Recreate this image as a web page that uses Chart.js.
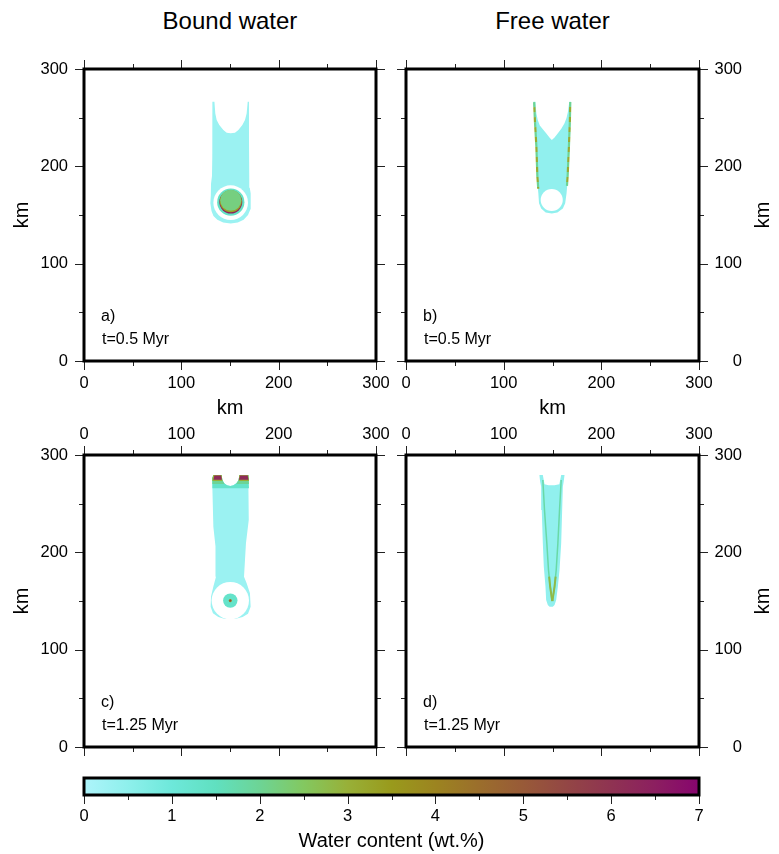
<!DOCTYPE html>
<html>
<head>
<meta charset="utf-8">
<title>Bound and free water</title>
<script src="https://cdn.jsdelivr.net/npm/chart.js@4/dist/chart.umd.min.js"></script>
<style>
  body { margin: 0; background: #fff; }
  #fig { position: relative; width: 779px; height: 854px; overflow: hidden; font-family: "Liberation Sans", Arial, sans-serif; }
  #fig canvas { position: absolute; }
  .col { position: absolute; top: 9px; text-align: center; font-size: 24px; line-height: 24px; color: #000; }
</style>
</head>
<body>
<div id="fig">
  <div class="col" style="left:84px;width:292px">Bound water</div>
  <div class="col" style="left:406px;width:293px">Free water</div>
  <canvas id="pa" width="398" height="376" style="left:0;top:47px"></canvas>
  <canvas id="pb" width="395" height="376" style="left:384px;top:47px"></canvas>
  <canvas id="pc" width="398" height="344" style="left:0;top:425px"></canvas>
  <canvas id="pd" width="395" height="344" style="left:384px;top:425px"></canvas>
  <canvas id="cb" width="779" height="85" style="left:0;top:768px"></canvas>
</div>
<script>
// ---- axes ----
const kmTicks = [0, 100, 200, 300];
const cbTicks = [0, 1, 2, 3, 4, 5, 6, 7];
// colour scale, one colour every 0.5 wt.%
const cbColors = ['#aef4fb', '#8ef0ec', '#6de8da', '#60e0c0', '#6dd495', '#83c860', '#98b038', '#999a1c',
                  '#9c8420', '#9b6e2c', '#985a38', '#934645', '#8f3352', '#8c1f60', '#87056e'];

// ---- a) bound water, t=0.5 Myr (km) ----
const boundBody05 = [
  {x:131.9,y:266.4},{x:131.9,y:240},{x:131.7,y:210},{x:131.5,y:190},{x:130.5,y:182},{x:130.3,y:170},
  {x:129.8,y:162},{x:131,y:154},{x:133,y:149},{x:137,y:145},{x:143,y:142.3},{x:150.7,y:141.3},
  {x:158,y:142.3},{x:164,y:145},{x:168.5,y:150},{x:171,y:156},{x:171.5,y:163},{x:171,y:172},
  {x:170.3,y:178},{x:169.8,y:186},{x:169.5,y:230},{x:169.5,y:266.4},
  {x:168.2,y:266.4},{x:167.1,y:254.4},{x:165.4,y:247.6},{x:162.7,y:242.5},{x:158.6,y:237.3},{x:155.1,y:234.6},
  {x:150.7,y:233.9},{x:146.6,y:234.6},{x:143.2,y:237.3},{x:139,y:242.5},{x:136.3,y:247.6},{x:134.9,y:254.4},
  {x:134,y:266.4},{x:131.9,y:266.4}
];
const boundBody05Wt = 0.3;
const boundHole05 = {x:150.7, y:162.7, r:17.8};
const boundSlab05 = [
  {x:150.8, y:163.2, r:14.0, wt:1.4},
  {x:150.8, y:163.3, r:11.8, wt:6.4},
  {x:150.8, y:164.2, r:11.3, wt:3.3},
  {x:150.8, y:165.1, r:10.8, wt:2.2}
];

// ---- b) free water, t=0.5 Myr ----
const freeBody05 = [
  {x:130.5,y:266.4},{x:132.5,y:266.4},{x:133.5,y:254.4},{x:134.9,y:247.6},{x:137,y:242},{x:140.1,y:238},
  {x:143.5,y:233.9},{x:146.9,y:229.5},{x:149.3,y:227},{x:152.1,y:229.5},{x:155.5,y:234},{x:159,y:238.5},
  {x:162.3,y:244.2},{x:164.4,y:250},{x:165.8,y:256},{x:167.2,y:266.4},{x:168.8,y:266.4},{x:168.5,y:247.6},
  {x:167.5,y:220.2},{x:166.4,y:200},{x:165.5,y:186},{x:164.4,y:172.3},{x:163,y:162},{x:160.6,y:156.8},
  {x:155,y:152.5},{x:149.3,y:151.5},{x:143,y:152.5},{x:138.4,y:156.8},{x:136.2,y:162},{x:135.5,y:172.3},
  {x:134.2,y:186},{x:133.5,y:200},{x:133.2,y:220.2},{x:131.5,y:247.6},{x:130.5,y:266.4}
];
const freeBody05Wt = 0.45;
const freeHole05 = {x:149.2, y:165.4, r:11.3};
const freeLeftEdge05 = [{x:131.2,y:266},{x:132,y:247},{x:133.5,y:220},{x:134.5,y:190},{x:135.4,y:177}];
const freeRightEdge05 = [{x:168.2,y:266},{x:167.8,y:247},{x:166.8,y:220},{x:165.5,y:190},{x:164.8,y:180}];
const freeEdgeWt = [2.0, 3.1];

// ---- c) bound water, t=1.25 Myr ----
const boundBody125 = [
  {x:132.9,y:279.5},{x:141.4,y:279.5},{x:142.1,y:274.3},{x:144.1,y:270.9},{x:147,y:268.8},{x:150.3,y:268.2},
  {x:153.5,y:268.8},{x:156.5,y:270.9},{x:158.9,y:274.3},{x:159.6,y:279.5},{x:168.8,y:279.5},{x:169.5,y:276},
  {x:169.5,y:265.8},{x:168.8,y:233.2},{x:166.4,y:209.3},{x:165.4,y:192.2},{x:164.4,y:175},{x:167.1,y:168.2},
  {x:170.5,y:157.9},{x:171.2,y:144.2},{x:168.5,y:137},{x:163,y:133.5},{x:156,y:131.8},{x:150.3,y:131.5},
  {x:144,y:131.8},{x:138,y:133.5},{x:132.5,y:137.5},{x:130.1,y:144.2},{x:130.5,y:154.5},{x:132.9,y:164.8},
  {x:135.6,y:175},{x:135.6,y:192.2},{x:134.6,y:205.9},{x:132.9,y:226.4},{x:131.9,y:265.8},{x:131.9,y:276},
  {x:132.9,y:279.5}
];
const boundBody125Wt = 0.3;
const boundCapTeal125 = [
  {x:131.9,y:265.8},{x:131.9,y:276},{x:132.9,y:279.5},{x:141.4,y:279.5},{x:142.1,y:274.3},{x:144.1,y:270.9},
  {x:147,y:268.8},{x:150.3,y:268.2},{x:153.5,y:268.8},{x:156.5,y:270.9},{x:158.9,y:274.3},{x:159.6,y:279.5},
  {x:168.8,y:279.5},{x:169.5,y:276},{x:169.5,y:265.8},{x:131.9,y:265.8}
];
const boundCapGreenL125 = [{x:131.9,y:270.2},{x:131.9,y:276},{x:132.9,y:279.5},{x:141.4,y:279.5},{x:142.1,y:274.3},{x:144.3,y:270.2},{x:131.9,y:270.2}];
const boundCapGreenR125 = [{x:156.5,y:270.2},{x:158.9,y:274.3},{x:159.6,y:279.5},{x:168.8,y:279.5},{x:169.5,y:276},{x:169.5,y:270.2},{x:156.5,y:270.2}];
const boundCapOliveL125 = [{x:131.9,y:273.3},{x:131.9,y:276},{x:132.9,y:279.5},{x:141.4,y:279.5},{x:142.1,y:274.3},{x:142.4,y:273.3},{x:131.9,y:273.3}];
const boundCapOliveR125 = [{x:158.6,y:273.3},{x:158.9,y:274.3},{x:159.6,y:279.5},{x:168.8,y:279.5},{x:169.5,y:276},{x:169.5,y:273.3},{x:158.6,y:273.3}];
const boundCapRedL125 = [{x:133,y:274.6},{x:133.9,y:279},{x:140.8,y:279},{x:141.7,y:274.6},{x:133,y:274.6}];
const boundCapRedR125 = [{x:159.2,y:274.6},{x:160.3,y:279},{x:168.2,y:279},{x:169,y:274.6},{x:159.2,y:274.6}];
const boundCapWt = [1.3, 2.0, 3.0, 6.2];
const boundHole125 = {x:150.3, y:150.4, r:19.2};
const boundSlab125 = [
  {x:150.3, y:150.4, r:7.4, wt:1.3},
  {x:150.3, y:150.4, r:1.6, wt:4.2},
  {x:150.3, y:150.4, r:0.7, wt:5.8}
];

// ---- d) free water, t=1.25 Myr ----
const freeBody125 = [
  {x:136.6,y:279.5},{x:140.1,y:279.5},{x:141.8,y:270},{x:146,y:269},{x:152,y:269},{x:157,y:270},
  {x:158.9,y:279.5},{x:162.3,y:279.5},{x:161.5,y:273},{x:160.6,y:267.5},{x:159.9,y:243.5},{x:158.9,y:209.3},
  {x:157.2,y:181.9},{x:155.5,y:164.8},{x:153.8,y:151.1},{x:152.1,y:145.9},{x:150.3,y:144.2},{x:147,y:144.2},
  {x:145.2,y:145.9},{x:143.5,y:151.1},{x:142.8,y:164.8},{x:141.1,y:185.3},{x:140.1,y:209.3},{x:139,y:243.5},
  {x:138.4,y:267.5},{x:137.3,y:273},{x:136.6,y:279.5}
];
const freeBody125Wt = 0.45;
const freeLeftV125 = [{x:140.1,y:274.3},{x:141.8,y:243.5},{x:144.2,y:209.3},{x:145.9,y:181.9},{x:147.6,y:164.8},{x:149.3,y:152.8},{x:149.9,y:150}];
const freeRightV125 = [{x:158.9,y:274.3},{x:157.2,y:243.5},{x:155.5,y:209.3},{x:153.8,y:181.9},{x:152.1,y:164.8},{x:150.3,y:152.8},{x:149.9,y:150}];
const freeTipL125 = [{x:146.6,y:175},{x:147.6,y:164.8},{x:149.3,y:152.8},{x:149.9,y:150}];
const freeTipR125 = [{x:153.2,y:175},{x:152.1,y:164.8},{x:150.3,y:152.8},{x:149.9,y:150}];
const freeVWt = [1.8, 2.8];

// ---- helpers ----
const FONT = '"Liberation Sans", Arial, sans-serif';

function cmap(v) {
  const f = Math.max(0, Math.min(7, v)) * 2;
  const i = Math.min(Math.floor(f), cbColors.length - 2);
  const t = f - i;
  const a = cbColors[i], b = cbColors[i + 1];
  const ch = (h, k) => parseInt(h.substr(1 + 2 * k, 2), 16);
  const c = [0, 1, 2].map(k => Math.round(ch(a, k) + (ch(b, k) - ch(a, k)) * t));
  return `rgb(${c[0]},${c[1]},${c[2]})`;
}

const kmPx = chart => chart.scales.x.getPixelForValue(1) - chart.scales.x.getPixelForValue(0);

function area(pts, wt) {
  return { data: pts, showLine: true, fill: 'shape', tension: 0, pointRadius: 0,
           backgroundColor: wt == null ? '#fff' : cmap(wt), borderColor: 'rgba(0,0,0,0)', borderWidth: 0 };
}
function disk(d, wt) {
  return { data: [d], showLine: false, pointBorderWidth: 0, pointBorderColor: 'rgba(0,0,0,0)',
           pointBackgroundColor: wt == null ? '#fff' : cmap(wt),
           pointRadius: c => kmPx(c.chart) * c.raw.r, pointHoverRadius: c => kmPx(c.chart) * c.raw.r };
}
function line(pts, wt, width, dash, offset) {
  return { data: pts, showLine: true, fill: false, tension: 0, pointRadius: 0, borderColor: cmap(wt),
           borderWidth: width, borderDash: dash || [], borderDashOffset: offset || 0, borderCapStyle: 'butt' };
}

// ticks, frame, panel tags and right-hand axis title
const gmtFrame = {
  id: 'gmtFrame',
  afterDraw(chart, args, o) {
    const { ctx, chartArea: a } = chart;
    ctx.save();
    ctx.strokeStyle = '#222';
    ctx.lineWidth = 1;
    o.sides.forEach(id => {
      const s = chart.scales[id];
      for (let v = s.min; v <= s.max + 1e-9; v += o.minor) {
        const major = Math.abs(v / o.major - Math.round(v / o.major)) < 1e-6;
        const len = major ? 9 : 5;
        const p = Math.round(s.getPixelForValue(v)) + 0.5;
        ctx.beginPath();
        if (s.position === 'bottom') { ctx.moveTo(p, a.bottom); ctx.lineTo(p, a.bottom + len); }
        else if (s.position === 'top') { ctx.moveTo(p, a.top); ctx.lineTo(p, a.top - len); }
        else if (s.position === 'left') { ctx.moveTo(a.left, p); ctx.lineTo(a.left - len, p); }
        else { ctx.moveTo(a.right, p); ctx.lineTo(a.right + len, p); }
        ctx.stroke();
      }
    });
    ctx.lineWidth = 3;
    ctx.strokeStyle = '#000';
    ctx.strokeRect(a.left, a.top, a.right - a.left, a.bottom - a.top);

    ctx.fillStyle = '#000';
    (o.tags || []).forEach(t => {
      ctx.font = `16px ${FONT}`;
      ctx.textAlign = 'left';
      ctx.textBaseline = 'alphabetic';
      ctx.fillText(t.text, chart.scales.x.getPixelForValue(t.x), chart.scales.y.getPixelForValue(t.y));
    });
    if (o.rightTitle) {
      ctx.font = `20px ${FONT}`;
      ctx.textAlign = 'center';
      ctx.textBaseline = 'middle';
      ctx.translate(a.right + 64, (a.top + a.bottom) / 2);
      ctx.rotate(-Math.PI / 2);
      ctx.fillText(o.rightTitle, 0, 0);
    }
    ctx.restore();
  }
};

function kmAxis(pos, labels, title, size) {
  const horiz = pos === 'top' || pos === 'bottom';
  const pad = { bottom: 13, top: 11, left: 16, right: 16 }[pos];
  return {
    type: 'linear', position: pos, min: 0, max: 300,
    afterBuildTicks: s => { s.ticks = kmTicks.map(v => ({ value: v })); },
    grid: { display: false, drawTicks: false },
    border: { display: false },
    ticks: { display: labels, padding: pad, color: '#000', font: { family: FONT, size: 16.5 },
             crossAlign: pos === 'right' ? 'far' : 'near', maxRotation: 0, autoSkip: false },
    title: { display: title, text: 'km', color: '#000', font: { family: FONT, size: 20 },
             padding: pos === 'left' ? { top: 10, bottom: 0 } : { top: 0, bottom: 3 } },
    afterFit: s => {
      if (horiz) s.height = size; else s.width = size;
      s.paddingLeft = s.paddingRight = s.paddingTop = s.paddingBottom = 0;
    }
  };
}

function panel(id, datasets, scales, tags, rightTitle) {
  datasets.forEach((d, i) => { d.order = datasets.length - i; });
  new Chart(document.getElementById(id), {
    type: 'scatter',
    data: { datasets },
    options: {
      responsive: false, animation: false, events: [],
      layout: { padding: { left: 0, top: 0, bottom: 0, right: rightTitle ? 37 : 0 } },
      plugins: {
        legend: { display: false }, tooltip: { enabled: false },
        gmtFrame: { sides: ['x', 'x2', 'y', 'y2'], major: 100, minor: 50, tags, rightTitle }
      },
      scales
    },
    plugins: [gmtFrame]
  });
}

// a)
panel('pa', [
  area(boundBody05, boundBody05Wt),
  disk(boundHole05, null),
  ...boundSlab05.map(d => disk(d, d.wt))
], {
  x: kmAxis('bottom', true, true, 62), x2: kmAxis('top', false, false, 22),
  y: kmAxis('left', true, true, 84), y2: kmAxis('right', false, false, 22)
}, [{ text: 'a)', x: 17.5, y: 41 }, { text: 't=0.5 Myr', x: 18.5, y: 17 }]);

// b)
panel('pb', [
  area(freeBody05, freeBody05Wt),
  disk(freeHole05, null),
  line(freeLeftEdge05, freeEdgeWt[0], 2.2, [5, 5], 0),
  line(freeLeftEdge05, freeEdgeWt[1], 2.2, [5, 5], 5),
  line(freeRightEdge05, freeEdgeWt[0], 2.2, [5, 5], 0),
  line(freeRightEdge05, freeEdgeWt[1], 2.2, [5, 5], 5)
], {
  x: kmAxis('bottom', true, true, 62), x2: kmAxis('top', false, false, 22),
  y: kmAxis('left', false, false, 22), y2: kmAxis('right', true, false, 43)
}, [{ text: 'b)', x: 17.5, y: 41 }, { text: 't=0.5 Myr', x: 18.5, y: 17 }], 'km');

// c)
panel('pc', [
  area(boundBody125, boundBody125Wt),
  area(boundCapTeal125, boundCapWt[0]),
  area(boundCapGreenL125, boundCapWt[1]), area(boundCapGreenR125, boundCapWt[1]),
  area(boundCapOliveL125, boundCapWt[2]), area(boundCapOliveR125, boundCapWt[2]),
  area(boundCapRedL125, boundCapWt[3]), area(boundCapRedR125, boundCapWt[3]),
  disk(boundHole125, null),
  ...boundSlab125.map(d => disk(d, d.wt))
], {
  x: kmAxis('bottom', false, false, 22), x2: kmAxis('top', true, false, 30),
  y: kmAxis('left', true, true, 84), y2: kmAxis('right', false, false, 22)
}, [{ text: 'c)', x: 17.5, y: 41 }, { text: 't=1.25 Myr', x: 18.5, y: 17 }]);

// d)
panel('pd', [
  area(freeBody125, freeBody125Wt),
  line(freeLeftV125, freeVWt[0], 1.5),
  line(freeRightV125, freeVWt[0], 1.5),
  line(freeTipL125, freeVWt[1], 2),
  line(freeTipR125, freeVWt[1], 2)
], {
  x: kmAxis('bottom', false, false, 22), x2: kmAxis('top', true, false, 30),
  y: kmAxis('left', false, false, 22), y2: kmAxis('right', true, false, 43)
}, [{ text: 'd)', x: 17.5, y: 41 }, { text: 't=1.25 Myr', x: 18.5, y: 17 }], 'km');

// colour bar
new Chart(document.getElementById('cb'), {
  type: 'bar',
  data: {
    labels: ['wt'],
    datasets: [{
      data: [[cbTicks[0], cbTicks[cbTicks.length - 1]]],
      borderWidth: 0, barPercentage: 1, categoryPercentage: 1,
      backgroundColor: c => {
        const a = c.chart.chartArea;
        if (!a) return cmap(3.5);
        const g = c.chart.ctx.createLinearGradient(a.left, 0, a.right, 0);
        cbColors.forEach((col, i) => g.addColorStop(i / (cbColors.length - 1), col));
        return g;
      }
    }]
  },
  options: {
    indexAxis: 'y', responsive: false, animation: false, events: [],
    layout: { padding: { left: 84, right: 80, top: 10, bottom: 0 } },
    plugins: {
      legend: { display: false }, tooltip: { enabled: false },
      gmtFrame: { sides: ['x'], major: 1, minor: 0.5 }
    },
    scales: {
      x: {
        type: 'linear', position: 'bottom', min: 0, max: 7,
        afterBuildTicks: s => { s.ticks = cbTicks.map(v => ({ value: v })); },
        grid: { display: false, drawTicks: false }, border: { display: false },
        ticks: { padding: 12, color: '#000', font: { family: FONT, size: 16.5 }, maxRotation: 0, autoSkip: false },
        title: { display: true, text: 'Water content (wt.%)', color: '#000', font: { family: FONT, size: 20 },
                 padding: { top: 0, bottom: 0 } },
        afterFit: s => { s.height = 58; s.paddingLeft = s.paddingRight = 0; }
      },
      y: { display: false }
    }
  },
  plugins: [gmtFrame]
});
</script>
</body>
</html>
